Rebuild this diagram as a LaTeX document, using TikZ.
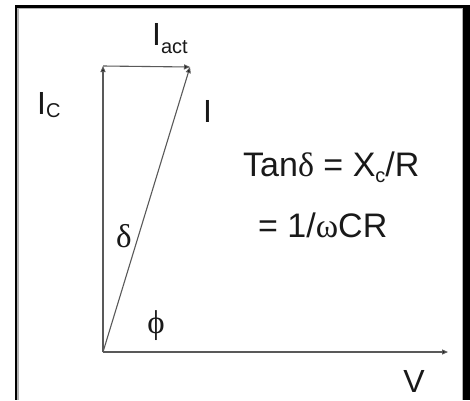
\documentclass[tikz,border=0pt]{standalone}
\usepackage{fontspec}
\setmainfont{Liberation Sans}
\newfontfamily\grk{Liberation Serif}
\usetikzlibrary{arrows.meta}
\tikzset{
  vec/.style={draw=black!65, line width=1.1pt, -{Triangle[length=6pt,width=5pt,fill=black]}},
  lab/.style={inner sep=0pt, font=\fontsize{32}{32}\selectfont, text=black!90},
  eqlab/.style={inner sep=0pt, font=\fontsize{34}{34}\selectfont, text=black!90},
  glab/.style={inner sep=0pt, font=\fontsize{33}{33}\selectfont\grk, text=black!90},
}
\newcommand{\sbs}[2]{\raisebox{-#1}{\fontsize{20}{20}\selectfont #2}}
\begin{document}
\begin{tikzpicture}[x=1pt,y=-1pt]
\useasboundingbox (0,0) rectangle (470,400);
\fill[white] (0,0) rectangle (470,400);
% frame
\fill[black] (14.5,5) rectangle (17,400);
\fill[black!30] (17,7.5) rectangle (18.5,400);
\fill[black] (14.5,5) rectangle (465,7.5);
\fill[black!30] (18.5,7.5) rectangle (462,8.5);
\fill[black!30] (461.5,7.5) rectangle (463,400);
\fill[black] (463,5) rectangle (470,400);
% points
\coordinate (O) at (103,352);
\coordinate (C) at (103,66);
\coordinate (P) at (190,67);
\coordinate (V) at (448,352);
\draw[vec] (O) -- (C);
\draw[vec] (C) -- (P);
\draw[vec] (O) -- (P);
\draw[vec] (O) -- (V);
% labels
\node[lab, anchor=base west] (iact) at (152,45) {I\sbs{8pt}{act}};
\node[lab, anchor=base west] (ic) at (37,114) {I\sbs{3pt}{C}};
\node[lab, anchor=base west] (i) at (203,122) {I};
\node[glab] (d) at (124,236) {δ};
\node[glab] (p) at (156,326) {ϕ};
\node[eqlab, anchor=base west] (eq1) at (243,176) {Tan{\grk δ} = X\sbs{6pt}{c}/R};
\node[eqlab, anchor=base west] (eq2) at (258,237) {= 1/{\grk ω}CR};
\node[lab] (v) at (414,381) {V};
\end{tikzpicture}
\end{document}
